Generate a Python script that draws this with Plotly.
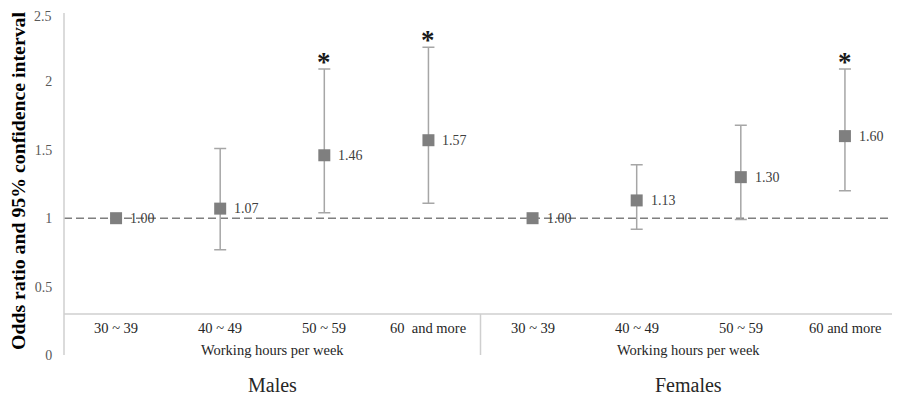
import plotly.graph_objects as go

# ---- data ----
categories = ["30 ~ 39", "40 ~ 49", "50 ~ 59", "60\u00a0 and more",
              "30 ~ 39", "40 ~ 49", "50 ~ 59", "60 and more"]
groups = ["Males", "Females"]
odds_ratio = [1.00, 1.07, 1.46, 1.57, 1.00, 1.13, 1.30, 1.60]
ci_lower = [1.00, 0.77, 1.04, 1.11, 1.00, 0.92, 0.99, 1.20]
ci_upper = [1.00, 1.51, 2.09, 2.25, 1.00, 1.39, 1.68, 2.09]
significant = [False, False, True, True, False, False, False, True]
y_ticks = [0, 0.5, 1, 1.5, 2, 2.5]
y_tick_labels = ["0", "0.5", "1", "1.5", "2", "2.5"]

SERIF = "Liberation Serif, Times New Roman, serif"
TICKFONT = dict(family=SERIF, size=14, color="#595959")
xs = list(range(len(categories)))

fig = go.Figure()
fig.add_trace(go.Scatter(
    x=xs, y=odds_ratio, mode="markers",
    marker=dict(symbol="square", size=12, color="#7f7f7f"),
    error_y=dict(type="data", symmetric=False,
                 array=[u - v for u, v in zip(ci_upper, odds_ratio)],
                 arrayminus=[v - l for v, l in zip(odds_ratio, ci_lower)],
                 color="#a6a6a6", thickness=1.5, width=6),
    hoverinfo="skip", showlegend=False,
))

ann = []
# value labels
for i, v in enumerate(odds_ratio):
    ann.append(dict(x=i, y=v, xref="x", yref="y", text=f"{v:.2f}",
                    showarrow=False, xanchor="left", yanchor="middle", xshift=12,
                    font=dict(family=SERIF, size=14, color="#404040")))
# significance stars
for i, s in enumerate(significant):
    if s:
        ann.append(dict(x=i, y=ci_upper[i], xref="x", yref="y", text="<b>*</b>",
                        showarrow=False, xanchor="center", yanchor="middle", yshift=7,
                        font=dict(family=SERIF, size=27, color="#1a1a1a")))
# category labels
for i, c in enumerate(categories):
    ann.append(dict(x=i, y=0.195, xref="x", yref="y", text=c, showarrow=False,
                    xanchor="center", yanchor="middle",
                    font=dict(family=SERIF, size=14.5, color="#262626")))
# sub-axis titles and group names
for g, name in enumerate(groups):
    cx = 1.5 + 4 * g
    ann.append(dict(x=cx, y=0.037, xref="x", yref="y", text="Working hours per week",
                    showarrow=False, xanchor="center", yanchor="middle",
                    font=dict(family=SERIF, size=14.5, color="#262626")))
    ann.append(dict(x=cx, y=0, xref="x", yref="paper", text=name,
                    showarrow=False, xanchor="center", yanchor="middle", yshift=-30,
                    font=dict(family=SERIF, size=20, color="#262626")))
# top tick label (the axis culls it because it touches the figure's top edge)
ann.append(dict(x=0, y=y_ticks[-1], xref="paper", yref="y", text=y_tick_labels[-1],
                showarrow=False, xanchor="right", yanchor="middle", xshift=-10, yshift=-3,
                font=TICKFONT))
# y title
ann.append(dict(x=0, y=0.5, xref="paper", yref="paper",
                text="<b>Odds ratio and 95% confidence interval</b>",
                textangle=-90, showarrow=False, xanchor="center", yanchor="middle",
                xshift=-46, yshift=3,
                font=dict(family=SERIF, size=19.8, color="#000000")))

line_col = "#cfcfcf"
shapes = [
    dict(type="line", xref="paper", yref="y", x0=0, x1=1, y0=1, y1=1,
         line=dict(color="#7f7f7f", width=1.5, dash="8px,4px"), layer="below"),
    dict(type="line", xref="paper", yref="y", x0=0, x1=1, y0=0.3, y1=0.3,
         line=dict(color=line_col, width=1.5), layer="below"),
    dict(type="line", xref="x", yref="y", x0=3.5, x1=3.5, y0=0.3, y1=-0.02,
         line=dict(color=line_col, width=1.5), layer="below"),
    dict(type="line", xref="paper", yref="y", x0=1, x1=1, y0=0.3, y1=-0.02,
         line=dict(color=line_col, width=1.5), layer="below"),
    dict(type="line", xref="paper", yref="y", x0=0, x1=0, y0=2.52, y1=-0.02,
         line=dict(color=line_col, width=1.5), layer="below"),
]

# page body has an 8px default margin, so the figure is sized to fill the rest
fig.update_layout(
    width=892, height=388,
    margin=dict(l=56, r=3, t=5, b=41),
    paper_bgcolor="white", plot_bgcolor="white",
    annotations=ann, shapes=shapes,
    xaxis=dict(range=[-0.5, 7.5], visible=False),
    yaxis=dict(range=[0, 2.5], tickvals=y_ticks[:-1], ticktext=y_tick_labels[:-1],
               showgrid=False, zeroline=False, showline=False,
               ticks="outside", ticklen=8, tickcolor="rgba(0,0,0,0)",
               tickfont=TICKFONT),
)

fig.write_html("out.html")
